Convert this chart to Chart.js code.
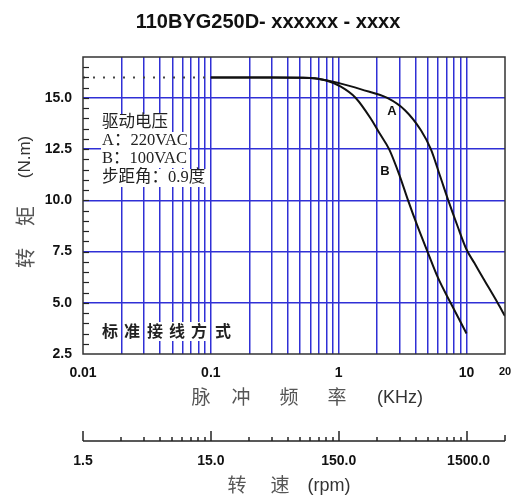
<!DOCTYPE html>
<html>
<head>
<meta charset="utf-8">
<script src="https://cdn.jsdelivr.net/npm/chart.js@4.4.1/dist/chart.umd.min.js"></script>
<style>
  html, body { margin: 0; padding: 0; background: #fff; }
  #wrap { width: 514px; height: 500px; }
</style>
</head>
<body>
<div id="wrap"><canvas id="torque-chart"></canvas></div>
<script>
// Curve A (220VAC) and curve B (100VAC): pulse frequency (KHz) vs torque (N.m)
const freqA = [0.1, 0.3, 0.6, 1.04, 1.5, 2.4, 3.3, 4.4, 5.26, 6.2, 7.2, 8.5, 10, 11.5, 13.5, 17.5, 20];
const torqueA = [16, 16, 15.98, 15.7, 15.42, 15.0, 14.4, 13.42, 12.5, 11.2, 10, 8.75, 7.6, 6.95, 6.2, 5.0, 4.35];
const freqB = [0.1, 0.3, 0.6, 0.8, 1.04, 1.36, 1.78, 2.1, 2.48, 3.0, 3.49, 4.1, 4.95, 6.0, 7.5, 10];
const torqueB = [16, 16, 15.98, 15.85, 15.55, 15.0, 14.0, 13.25, 12.5, 11.2, 10, 8.8, 7.5, 6.2, 5.0, 3.5];
// dotted holding line below 0.1 KHz
const dotFreq = [0.01, 0.1];
const dotTorque = [16, 16];

// Axes
const xTicks = [0.01, 0.02, 0.03, 0.04, 0.05, 0.06, 0.07, 0.08, 0.09,
  0.1, 0.2, 0.3, 0.4, 0.5, 0.6, 0.7, 0.8, 0.9,
  1, 2, 3, 4, 5, 6, 7, 8, 9, 10, 20];
const xTickLabels = { 0.01: '0.01', 0.1: '0.1', 1: '1', 10: '10', 20: '20' };
const yTickLabels = ['2.5', '5.0', '7.5', '10.0', '12.5', '15.0'];
const rpmLabels = ['1.5', '15.0', '150.0', '1500.0'];
const rpmPerKHz = 150; // 0.9 deg step -> 400 steps/rev

const GRID_BLUE = 'rgb(48,48,214)';
const CJK = '"Noto Sans CJK SC"';
const LATIN = '"Liberation Sans", Arial';
const SERIF = '"Liberation Serif", "Noto Sans CJK SC"';

const pts = (xs, ys) => xs.map((x, i) => ({ x, y: ys[i] }));

const whiteBg = {
  id: 'whiteBg',
  beforeDraw(c) {
    const { ctx } = c;
    ctx.save();
    ctx.fillStyle = '#fff';
    ctx.fillRect(0, 0, c.width, c.height);
    ctx.restore();
  },
};

// text with a white patch behind it, so the grid is broken there
const boxedText = (ctx, text, x, y) => {
  const w = ctx.measureText(text).width;
  ctx.fillStyle = '#fff';
  ctx.fillRect(x - 1, y - 9, w + 2, 18);
  ctx.fillStyle = '#222';
  ctx.fillText(text, x, y);
};

const decor = {
  id: 'decor',
  afterDraw(c) {
    const { ctx, chartArea: a } = c;
    const xs = c.scales.x;
    const ys = c.scales.y;
    ctx.save();

    // minor ticks inside the left border
    ctx.strokeStyle = '#222';
    ctx.lineWidth = 1.2;
    for (let v = 3; v < 17; v += 0.5) {
      const py = Math.round(ys.getPixelForValue(v)) + 0.5;
      ctx.beginPath();
      ctx.moveTo(a.left, py);
      ctx.lineTo(a.left + 6, py);
      ctx.stroke();
    }

    // plot frame
    ctx.strokeStyle = '#333';
    ctx.lineWidth = 1.5;
    ctx.strokeRect(a.left, a.top, a.right - a.left, a.bottom - a.top);

    // legend block
    ctx.textBaseline = 'middle';
    ctx.textAlign = 'left';
    ctx.font = `16.5px ${SERIF}`;
    boxedText(ctx, '驱动电压', 102, 123);
    boxedText(ctx, 'A：220VAC', 102, 141);
    boxedText(ctx, 'B：100VAC', 102, 159);
    boxedText(ctx, '步距角：0.9度', 102, 178);

    // wiring note, wide spaced
    ctx.font = `bold 16px ${CJK}`;
    ctx.textAlign = 'center';
    const note = '标准接线方式';
    const noteX = [110, 132, 155, 177, 199, 223];
    [...note].forEach((ch, i) => {
      ctx.fillStyle = '#fff';
      ctx.fillRect(noteX[i] - 9, 322, 18, 19);
      ctx.fillStyle = '#222';
      ctx.fillText(ch, noteX[i], 331);
    });

    // curve labels
    ctx.font = `bold 13px ${LATIN}`;
    ctx.fillStyle = '#111';
    ctx.fillText('A', 392, 111);
    ctx.fillText('B', 385, 171);

    // title
    ctx.font = `bold 20px ${LATIN}`;
    ctx.fillText('110BYG250D- xxxxxx - xxxx', 268, 22);

    // y axis title, rotated
    ctx.save();
    ctx.translate(25, 0);
    ctx.rotate(-Math.PI / 2);
    ctx.fillStyle = '#333';
    ctx.font = `17px ${LATIN}`;
    ctx.fillText('(N.m)', -157, 0);
    ctx.fillStyle = '#555';
    ctx.font = `20px ${CJK}`;
    ctx.fillText('矩', -216, 0);
    ctx.fillText('转', -258, 0);
    ctx.restore();

    // x axis title
    ctx.fillStyle = '#555';
    ctx.font = `19px ${CJK}`;
    ['脉', '冲', '频', '率'].forEach((ch, i) => {
      ctx.fillText(ch, [201, 241, 289, 337][i], 397);
    });
    ctx.fillStyle = '#333';
    ctx.font = `18px ${LATIN}`;
    ctx.fillText('(KHz)', 400, 398);

    // secondary rpm axis
    const axY = 441;
    ctx.strokeStyle = '#222';
    ctx.lineWidth = 1.5;
    ctx.beginPath();
    ctx.moveTo(a.left, axY);
    ctx.lineTo(a.right, axY);
    ctx.stroke();
    xTicks.forEach((v) => {
      const px = Math.round(xs.getPixelForValue(v));
      const major = xTickLabels[v] !== undefined && v !== 20;
      const h = major ? 10 : (v === 20 ? 6 : 4);
      ctx.beginPath();
      ctx.moveTo(px, axY);
      ctx.lineTo(px, axY - h);
      ctx.stroke();
    });
    ctx.fillStyle = '#111';
    ctx.font = `bold 14px ${LATIN}`;
    rpmLabels.forEach((t, i) => {
      const kHz = parseFloat(t) / rpmPerKHz;
      const px = xs.getPixelForValue(kHz) + (i === 3 ? 2 : 0);
      ctx.fillText(t, px, 461);
    });

    ctx.fillStyle = '#555';
    ctx.font = `19px ${CJK}`;
    ctx.fillText('转', 237, 485);
    ctx.fillText('速', 280, 485);
    ctx.fillStyle = '#333';
    ctx.font = `18px ${LATIN}`;
    ctx.fillText('(rpm)', 329, 486);

    ctx.restore();
  },
};

const curve = {
  borderColor: '#111',
  borderWidth: 2,
  pointRadius: 0,
  fill: false,
  cubicInterpolationMode: 'monotone',
};

// eslint-disable-next-line no-unused-vars
const chart = new Chart(document.getElementById('torque-chart'), {
  type: 'line',
  data: {
    datasets: [
      { ...curve, label: 'A', data: pts(freqA, torqueA) },
      { ...curve, label: 'B', data: pts(freqB, torqueB) },
      {
        label: 'hold',
        data: pts(dotFreq, dotTorque),
        borderColor: '#444',
        borderWidth: 2,
        borderDash: [2, 8],
        pointRadius: 0,
      },
    ],
  },
  options: {
    responsive: true,
    maintainAspectRatio: false,
    animation: false,
    layout: {
      padding: { top: 57, right: 9, left: 0, bottom: 0 },
    },
    scales: {
      x: {
        type: 'logarithmic',
        min: 0.01,
        max: 20,
        afterBuildTicks: (s) => { s.ticks = xTicks.map((value) => ({ value })); },
        afterFit: (s) => {
          s.height = 146;
          s.paddingLeft = 0;
          s.paddingRight = 0;
        },
        grid: {
          color: (ctx) => (ctx.tick && ctx.tick.value > 0.01 && ctx.tick.value < 20 ? GRID_BLUE : 'rgba(0,0,0,0)'),
          lineWidth: 1.5,
          drawTicks: false,
        },
        border: { display: false },
        ticks: {
          autoSkip: false,
          maxRotation: 0,
          padding: 11,
          color: '#111',
          font: (ctx) => ({
            family: LATIN,
            weight: 'bold',
            size: ctx.tick && ctx.tick.value === 20 ? 11 : 14,
          }),
          callback: (value) => xTickLabels[value] || '',
        },
      },
      y: {
        min: 2.5,
        max: 17,
        afterBuildTicks: (s) => {
          s.ticks = yTickLabels.map((t) => ({ value: parseFloat(t) }));
        },
        afterFit: (s) => {
          s.width = 83;
          s.paddingTop = 0;
          s.paddingBottom = 0;
        },
        grid: {
          color: (ctx) => (ctx.tick && ctx.tick.value > 2.5 ? GRID_BLUE : 'rgba(0,0,0,0)'),
          lineWidth: 1.5,
          drawTicks: false,
        },
        border: { display: false },
        ticks: {
          padding: 11,
          color: '#111',
          font: { family: LATIN, weight: 'bold', size: 14 },
          callback: (value) => yTickLabels.find((t) => parseFloat(t) === value) || '',
        },
      },
    },
    plugins: {
      legend: { display: false },
      tooltip: { enabled: false },
    },
  },
  plugins: [whiteBg, decor],
});
</script>
</body>
</html>
